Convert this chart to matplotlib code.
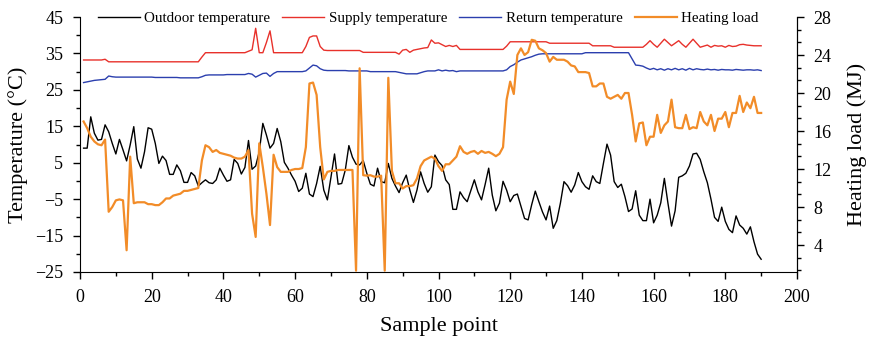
import matplotlib
matplotlib.use("Agg")
import matplotlib.pyplot as plt
from matplotlib.ticker import MultipleLocator
import numpy as np

sample = list(range(1, 191))

outdoor = [9.0, 9.0, 17.6, 13.1, 11.2, 11.4, 15.4, 13.5, 10.3, 7.4,
           11.4, 8.5, 5.5, 9.9, 14.9, 6.0, 3.5, 8.0, 14.6, 14.2,
           10.3, 4.8, 6.8, 5.6, 1.8, 1.8, 4.4, 2.8, -0.4, -0.4,
           2.3, 1.4, -1.4, -0.5, 0.3, -0.5, -0.7, 0.3, 3.5, 1.6,
           -0.1, 0.3, 5.9, 4.8, 1.9, 3.7, 11.1, 3.2, 4.1, 8.0,
           15.8, 12.6, 9.0, 10.3, 14.4, 10.8, 5.1, 3.5, 1.6, -0.1,
           -2.9, -2.0, 2.1, -3.6, -4.3, -0.7, 4.0, -2.5, -5.2, 1.0,
           7.4, -0.9, -0.7, 3.0, 9.7, 6.5, 4.6, 4.4, 5.6, 2.1,
           -0.9, -1.4, 3.5, -0.2, -0.5, 4.8, 0.7, -1.4, -3.2, -0.5,
           1.6, -2.5, -5.9, -2.5, 2.5, -0.7, -3.1, -1.6, 7.1, 5.3,
           4.2, 0.3, -1.0, -7.8, -7.8, -3.0, -4.6, -5.7, -2.7, 0.3,
           -3.0, -5.2, -1.0, 3.5, -3.9, -8.2, -6.1, -0.1, -2.5, -5.7,
           -4.0, -3.6, -7.0, -10.3, -10.7, -6.5, -2.8, -5.7, -8.5, -10.7,
           -6.9, -13.0, -10.9, -6.1, -0.2, -1.3, -3.1, -1.1, 2.3, -0.2,
           -1.6, -2.3, 1.4, -0.2, -0.7, 4.8, 10.1, 7.1, -0.2, -1.8,
           -0.9, -4.3, -8.4, -7.7, -2.7, -9.4, -10.9, -10.9, -5.0, -11.5,
           -9.4, -6.0, 0.7, -6.1, -12.4, -8.2, 1.0, 1.4, 2.1, 4.1,
           7.4, 7.6, 5.9, 2.5, -0.5, -5.0, -10.0, -11.1, -7.2, -11.1,
           -13.3, -14.2, -9.6, -12.1, -13.0, -14.6, -12.6, -16.7, -20.1, -21.5]

supply = ([33.2] * 6 + [33.4] + [32.7] * 26 + [34.0] + [35.2] * 12 + [35.6, 36.0, 41.9, 35.2, 35.2, 38.0, 41.2]
          + [35.2] * 9 + [36.9, 39.4, 39.8, 39.8, 36.9, 35.9] + [35.8] * 10 + [35.3] * 10
          + [34.8, 35.9, 36.1, 35.3, 35.9, 36.1, 36.3, 36.5, 36.6, 38.7, 37.8, 37.9, 37.4, 36.9, 37.2, 36.9, 37.2]
          + [36.1] * 13 + [37.0] + [38.2] * 11 + [37.8] * 12 + [37.1] * 6 + [36.7] * 9
          + [37.5, 38.5, 37.5, 36.7, 37.8, 38.9, 38.0, 37.1, 37.8, 38.5, 37.5, 36.7, 37.8, 38.9, 37.8, 36.7,
             37.0, 37.3, 36.7, 37.2, 37.0, 37.1, 36.7, 37.2, 36.9, 37.0, 37.4, 37.5, 37.3, 37.2, 37.1, 37.1, 37.1])

ret = ([27.0, 27.2, 27.4, 27.6, 27.7, 27.8, 27.9, 28.8, 28.6] + [28.5] * 11 + [28.4] * 7 + [28.3] * 6
       + [28.6, 29.0] + [29.1] * 5 + [29.2] * 6 + [29.5, 29.3, 28.5, 29.0, 29.5, 29.6, 28.7, 29.5] + [30.0] * 8
       + [30.2, 31.0, 31.8, 31.6, 30.8, 30.4] + [30.3] * 6 + [30.2] * 6 + [30.0] * 8
       + [29.8, 29.6, 29.4, 29.4, 29.4, 29.4, 29.7, 30.0, 30.2, 30.2, 30.2, 30.5, 30.2, 30.4, 30.2, 30.3, 30.0]
       + [30.2] * 13 + [30.5, 31.4, 31.9, 32.6, 33.2, 33.5, 33.8, 34.1, 34.5, 34.8]
       + [34.9] * 12 + [35.2] * 13 + [33.5, 31.8, 31.7, 31.5, 31.0, 30.6]
       + [30.9, 30.5, 30.8, 30.4, 30.8, 30.5, 30.9, 30.5, 30.8, 30.4, 30.9, 30.5, 30.8, 30.6, 30.5, 30.7,
          30.5, 30.6, 30.4, 30.6, 30.5, 30.5, 30.4, 30.6, 30.5, 30.4, 30.5, 30.5, 30.4, 30.5, 30.3])

load = [17.0, 16.3, 15.4, 14.9, 14.6, 14.5, 15.1, 7.5, 8.0, 8.7,
        8.8, 8.7, 3.45, 13.3, 8.4, 8.5, 8.5, 8.5, 8.3, 8.3,
        8.2, 8.2, 8.5, 8.9, 8.9, 9.2, 9.3, 9.4, 9.7, 9.7,
        9.8, 9.9, 10.0, 12.9, 14.5, 14.3, 13.8, 14.0, 13.7, 13.6,
        13.5, 13.4, 13.2, 13.1, 13.1, 13.3, 14.0, 7.3, 4.85, 14.7,
        12.2, 9.4, 6.1, 13.5, 12.2, 11.7, 11.7, 11.7, 11.9, 12.0,
        12.0, 12.1, 14.3, 21.0, 21.1, 19.8, 14.3, 10.9, 11.7, 11.8,
        11.8, 11.9, 11.9, 11.9, 11.9, 11.9, 1.3, 22.6, 11.35, 11.3,
        11.35, 11.2, 11.2, 11.3, 1.3, 21.6, 11.8, 10.5, 10.5, 9.95,
        10.2, 10.2, 10.3, 11.0, 12.3, 12.9, 13.1, 13.3, 13.1, 12.3,
        11.8, 12.5, 12.5, 12.9, 13.3, 14.4, 13.8, 13.6, 13.8, 13.9,
        13.6, 13.9, 13.7, 13.8, 13.6, 13.35, 13.6, 14.3, 19.3, 21.2,
        19.9, 24.0, 24.7, 24.0, 24.3, 25.6, 25.5, 24.7, 24.5, 24.2,
        23.3, 23.8, 23.5, 23.5, 23.5, 23.3, 22.9, 22.8, 22.2, 22.2,
        22.2, 22.1, 20.7, 20.7, 21.0, 21.0, 19.6, 19.4, 19.6, 19.8,
        19.4, 20.0, 20.0, 17.7, 14.9, 16.8, 16.9, 14.5, 15.4, 15.4,
        17.7, 15.8, 16.6, 17.0, 19.3, 16.4, 16.3, 16.3, 17.7, 16.2,
        16.4, 16.3, 18.0, 17.0, 16.6, 17.7, 16.0, 17.3, 17.3, 18.0,
        16.4, 17.9, 17.9, 19.7, 18.0, 19.0, 18.4, 19.6, 17.9, 17.9]

plt.rcParams['font.family'] = ['Liberation Serif', 'DejaVu Serif']

fig = plt.figure(figsize=(8.73, 3.39), dpi=100)
ax = fig.add_axes([80 / 873, 67 / 339, 717 / 873, 255 / 339])
ax2 = ax.twinx()

l1, = ax.plot(sample, outdoor, color='black', lw=1.0, label='Outdoor temperature')
l2, = ax.plot(sample, supply, color='#e8312b', lw=1.0, label='Supply temperature')
l3, = ax.plot(sample, ret, color='#2b3fae', lw=1.0, label='Return temperature')
l4, = ax2.plot(sample, load, color='#f28c28', lw=1.6, label='Heating load')

ax.set_xlim(0, 200)
ax.set_ylim(-25, 45)
ax2.set_ylim(1.16, 28)
ax.set_yticks(np.arange(-25, 46, 10))
ax.yaxis.set_minor_locator(MultipleLocator(5))
ax.set_xticks(np.arange(0, 201, 20))
ax.xaxis.set_minor_locator(MultipleLocator(10))
ax2.set_yticks(np.arange(4, 29, 4))
ax2.yaxis.set_minor_locator(MultipleLocator(4 / 3))

for a in (ax, ax2):
    a.spines['top'].set_visible(False)
    a.tick_params(which='both', direction='out', labelsize=13, width=1, pad=7)
    a.tick_params(which='major', length=5)
    a.tick_params(which='minor', length=3)
ax2.spines['left'].set_visible(False)
ax2.spines['bottom'].set_visible(False)

ax.set_xlabel('Sample point', fontsize=16, labelpad=8)
ax.set_ylabel('Temperature (°C)', fontsize=16, labelpad=5)
ax2.set_ylabel('Heating load (MJ)', fontsize=16, labelpad=11)

fig.legend(handles=[l1, l2, l3, l4], loc='center', bbox_to_anchor=(428 / 873, 1 - 18 / 339),
           ncol=4, frameon=False, fontsize=10.8, handlelength=2.8, handletextpad=0.3,
           columnspacing=0.8, borderaxespad=0)

fig.savefig('out.png', dpi=100)
